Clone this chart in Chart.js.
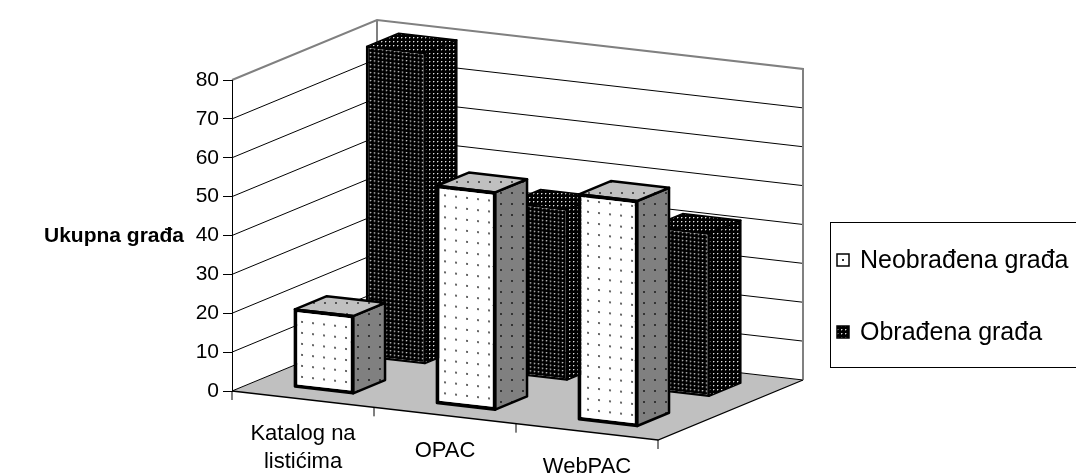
<!DOCTYPE html>
<html><head><meta charset="utf-8">
<script src="https://cdn.jsdelivr.net/npm/chart.js@4.4.1/dist/chart.umd.min.js"></script>
<style>html,body{margin:0;padding:0;background:#fff;overflow:hidden}#wrap{width:1076px;height:475px;position:relative}</style>
</head><body><div id="wrap"><canvas id="c" width="1076" height="475"></canvas></div>
<script>
// ---- data ----
const categories = [['Katalog na', 'listićima'], 'OPAC', 'WebPAC'];
const seriesNames = ['Neobrađena građa', 'Obrađena građa'];
const neobradjena = [20, 56, 58];
const obradjena = [80, 44, 42];
const yMin = 0, yMax = 80, yStep = 10;
const yTitle = 'Ukupna građa';

// ---- 3D look ----
const DEPTH_X = 145, DEPTH_Y = -60, SLOPE = 0.115;
const depthOf = [[0.145, 0.365], [0.64, 0.86]];
const FONT = 'Arial, "Liberation Sans", sans-serif';

const canvas = document.getElementById('c');
const ctx0 = canvas.getContext('2d');
function makePattern(w, h, bg, dots) {
  const c = document.createElement('canvas'); c.width = w; c.height = h;
  const g = c.getContext('2d');
  g.fillStyle = bg; g.fillRect(0, 0, w, h);
  dots.forEach(([x, y, s, col]) => { g.fillStyle = col; g.fillRect(x, y, s, s); });
  return ctx0.createPattern(c, 'repeat');
}
const pat = {
  lightFront: makePattern(11, 11, '#ffffff', [[5, 5, 2, '#666']]),
  lightTop: makePattern(11, 11, '#c0c0c0', [[5, 5, 2, '#555']]),
  lightSide: makePattern(11, 11, '#808080', [[5, 5, 2, '#333']]),
  dark: makePattern(4, 4, '#000000', [[1, 1, 1, '#e0e0e0'], [2, 1, 1, '#555'], [1, 2, 1, '#555']]),
};
const faceStyle = [
  {front: pat.lightFront, top: pat.lightTop, side: pat.lightSide, lw: 2.5},
  {front: pat.dark, top: pat.dark, side: pat.dark, lw: 1.5},
];

function proj(chart, px, py, d) {
  const L = chart.chartArea.left;
  return [px + DEPTH_X * d, py + SLOPE * (px - L) + DEPTH_Y * d];
}
function poly(ctx, pts) {
  ctx.beginPath();
  pts.forEach((p, i) => i ? ctx.lineTo(p[0], p[1]) : ctx.moveTo(p[0], p[1]));
  ctx.closePath();
}
function path(ctx, pts) {
  ctx.beginPath();
  pts.forEach((p, i) => i ? ctx.lineTo(p[0], p[1]) : ctx.moveTo(p[0], p[1]));
}

const threeD = {
  id: 'threeD',
  beforeDraw(chart) {
    const ctx = chart.ctx, a = chart.chartArea, ys = chart.scales.y;
    const L = a.left, R = a.right, B = ys.getPixelForValue(yMin), T = ys.getPixelForValue(yMax);
    ctx.save();
    ctx.fillStyle = '#fff'; ctx.fillRect(0, 0, chart.width, chart.height);
    ctx.fillStyle = '#c0c0c0';
    poly(ctx, [proj(chart, L, B, 0), proj(chart, R, B, 0), proj(chart, R, B, 1), proj(chart, L, B, 1)]);
    ctx.fill();
    ctx.fillStyle = '#fff';
    poly(ctx, [proj(chart, L, B, 0), proj(chart, L, T, 0), proj(chart, L, T, 1), proj(chart, L, B, 1)]); ctx.fill();
    poly(ctx, [proj(chart, L, B, 1), proj(chart, L, T, 1), proj(chart, R, T, 1), proj(chart, R, B, 1)]); ctx.fill();
    ctx.strokeStyle = '#000'; ctx.lineWidth = 1;
    for (let v = yMin; v < yMax; v += yStep) {
      const py = ys.getPixelForValue(v);
      path(ctx, [proj(chart, L, py, 0), proj(chart, L, py, 1), proj(chart, R, py, 1)]);
      ctx.stroke();
    }
    ctx.strokeStyle = '#808080'; ctx.lineWidth = 2;
    path(ctx, [proj(chart, L, T, 0), proj(chart, L, T, 1), proj(chart, R, T, 1), proj(chart, R, B, 1)]);
    ctx.stroke();
    path(ctx, [proj(chart, L, T, 1), proj(chart, L, B, 1)]); ctx.stroke();
    ctx.strokeStyle = '#000'; ctx.lineWidth = 1.3;
    path(ctx, [proj(chart, L, B, 0), proj(chart, R, B, 0), proj(chart, R, B, 1)]); ctx.stroke();
    const n = categories.length, w = (R - L) / n;
    ctx.lineWidth = 1;
    for (let i = 0; i <= n; i++) {
      const p = proj(chart, L + i * w, B, 0);
      path(ctx, [p, [p[0], p[1] + 9]]); ctx.stroke();
    }
    ctx.restore();
  },
  beforeDatasetDraw(chart, args) {
    const ctx = chart.ctx, d0 = depthOf[args.index][0], L = chart.chartArea.left;
    ctx.save();
    ctx.transform(1, SLOPE, 0, 1, DEPTH_X * d0, -SLOPE * L + DEPTH_Y * d0);
  },
  afterDatasetDraw(chart, args) {
    const ctx = chart.ctx;
    ctx.restore();
    const [d0, d1] = depthOf[args.index];
    const st = faceStyle[args.index];
    ctx.save();
    ctx.strokeStyle = '#000'; ctx.lineWidth = st.lw; ctx.lineJoin = 'round';
    args.meta.data.forEach(el => {
      const l = el.x - el.width / 2, r = el.x + el.width / 2;
      const top = Math.min(el.y, el.base), base = Math.max(el.y, el.base);
      const topF = [proj(chart, l, top, d0), proj(chart, r, top, d0), proj(chart, r, top, d1), proj(chart, l, top, d1)];
      const side = [proj(chart, r, top, d0), proj(chart, r, base, d0), proj(chart, r, base, d1), proj(chart, r, top, d1)];
      ctx.fillStyle = st.side; poly(ctx, side); ctx.fill(); ctx.stroke();
      ctx.fillStyle = st.top; poly(ctx, topF); ctx.fill(); ctx.stroke();
      poly(ctx, [proj(chart, l, top, d0), proj(chart, r, top, d0), proj(chart, r, base, d0), proj(chart, l, base, d0)]);
      ctx.stroke();
    });
    ctx.restore();
  },
  afterDraw(chart) {
    const ctx = chart.ctx, a = chart.chartArea, ys = chart.scales.y, xs = chart.scales.x;
    const B = ys.getPixelForValue(yMin);
    ctx.save();
    ctx.fillStyle = '#000';
    ctx.font = '22px ' + FONT; ctx.textAlign = 'center'; ctx.textBaseline = 'middle';
    categories.forEach((lab, i) => {
      const p = proj(chart, xs.getPixelForValue(i), B, 0);
      const lines = Array.isArray(lab) ? lab : [lab];
      lines.forEach((t, k) => ctx.fillText(t, p[0], p[1] + 35 + k * 28));
    });
    ctx.font = 'bold 21px ' + FONT; ctx.textAlign = 'right';
    ctx.fillText(yTitle, 184, (a.top + a.bottom) / 2 + 1);
    ctx.strokeStyle = '#000'; ctx.lineWidth = 1;
    ctx.strokeRect(830.5, 222.5, 260, 145);
    ctx.font = '25px ' + FONT; ctx.textAlign = 'left';
    const ly = [260, 332];
    chart.data.datasets.forEach((ds, i) => {
      const y = ly[i];
      ctx.fillStyle = i === 0 ? '#fff' : pat.dark;
      ctx.fillRect(837, y - 6, 12, 12);
      if (i === 0) { ctx.fillStyle = '#333'; ctx.fillRect(842, y - 1, 2, 2); }
      ctx.strokeStyle = '#000'; ctx.lineWidth = 1.5;
      ctx.strokeRect(837, y - 6, 12, 12);
      ctx.fillStyle = '#000';
      ctx.fillText(ds.label, 860, y + 1);
    });
    ctx.restore();
  }
};

new Chart(canvas, {
  type: 'bar',
  data: {
    labels: categories,
    datasets: [
      {label: seriesNames[0], data: neobradjena, order: 0, backgroundColor: pat.lightFront,
       borderColor: '#000', borderWidth: 2.5, borderSkipped: false, clip: false},
      {label: seriesNames[1], data: obradjena, order: 1, backgroundColor: pat.dark,
       borderColor: '#000', borderWidth: 1.5, borderSkipped: false, clip: false},
    ]
  },
  options: {
    responsive: false, animation: false, events: [],
    layout: {padding: {left: 0, top: 80, right: 418, bottom: 84}},
    datasets: {bar: {grouped: false, barPercentage: 0.41, categoryPercentage: 1.0}},
    plugins: {legend: {display: false}, tooltip: {enabled: false}},
    scales: {
      x: {display: false, offset: true},
      y: {
        min: yMin, max: yMax,
        ticks: {stepSize: yStep, color: '#000', font: {size: 21, family: FONT}, padding: 4},
        grid: {drawOnChartArea: false, drawTicks: true, tickLength: 9, color: '#000'},
        border: {display: true, color: '#000', width: 1},
        afterFit(scale) { scale.width = 232; }
      }
    }
  },
  plugins: [threeD]
});
</script></body></html>
